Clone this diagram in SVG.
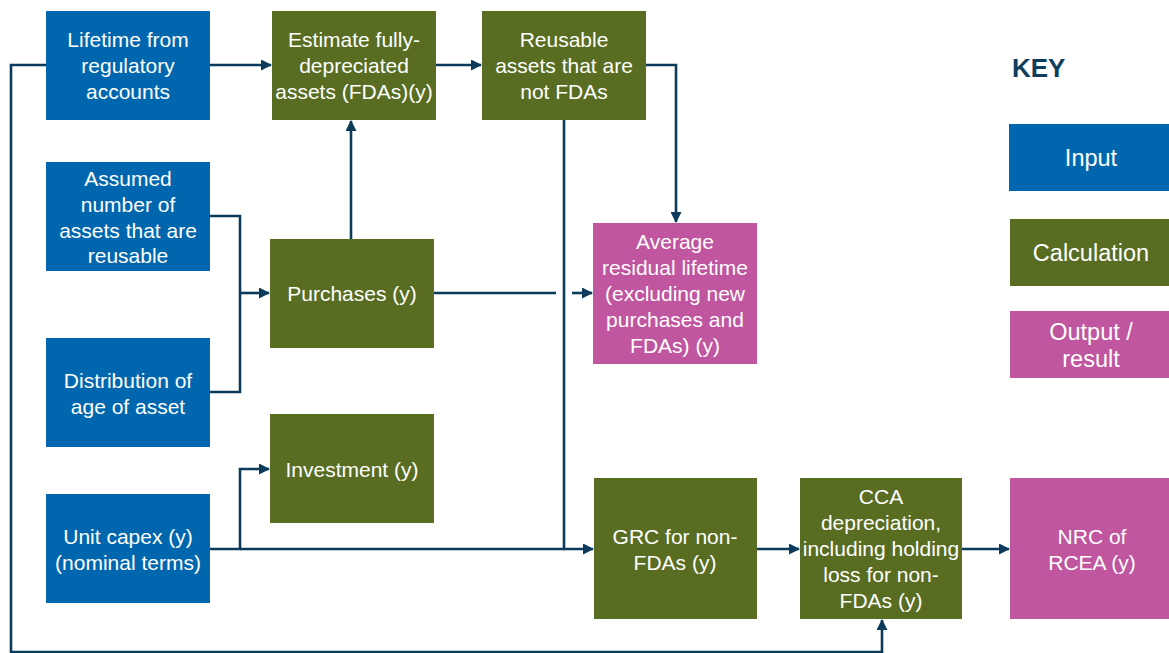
<svg xmlns="http://www.w3.org/2000/svg" width="1169" height="653" viewBox="0 0 1169 653">
  <style>
    .input { fill: #0067af; }
    .calc { fill: #586d22; }
    .output { fill: #c055a0; }
    .label { font-family: "Liberation Sans", Arial, sans-serif; font-size: 21px; fill: #ffffff; text-anchor: middle; }
    .keylabel { font-size: 23.5px; }
    .key { font-family: "Liberation Sans", Arial, sans-serif; font-size: 26px; font-weight: bold; fill: #0f3d5c; }
    .wire { fill: none; stroke: #0b3a5a; stroke-width: 2.6; }
  </style>
  <defs>
    <marker id="arrow" markerWidth="11" markerHeight="11" refX="10" refY="5.5" orient="auto" markerUnits="userSpaceOnUse">
      <path d="M0,0 L11,5.5 L0,11 Z" fill="#0b3a5a"/>
    </marker>
  </defs>
  <rect width="1169" height="653" fill="#ffffff"/>

  <g id="connectors">
    <!-- feedback loop from lifetime to CCA -->
    <path class="wire" d="M46,65 H11 V652 H882 V620" marker-end="url(#arrow)"/>
    <path class="wire" d="M210,65 H271" marker-end="url(#arrow)"/>
    <path class="wire" d="M436,65 H481" marker-end="url(#arrow)"/>
    <path class="wire" d="M646,65 H676 V222" marker-end="url(#arrow)"/>
    <path class="wire" d="M564,120 V549 H593" marker-end="url(#arrow)"/>
    <path class="wire" d="M210,216 H240 V392 H210"/>
    <path class="wire" d="M240,293 H269" marker-end="url(#arrow)"/>
    <path class="wire" d="M351,239 V121" marker-end="url(#arrow)"/>
    <path class="wire" d="M434,293 H556"/>
    <path class="wire" d="M572,293 H592" marker-end="url(#arrow)"/>
    <path class="wire" d="M210,549 H240 V469 H269" marker-end="url(#arrow)"/>
    <path class="wire" d="M240,549 H564"/>
    <path class="wire" d="M757,549 H799" marker-end="url(#arrow)"/>
    <path class="wire" d="M962,549 H1009" marker-end="url(#arrow)"/>
  </g>

  <g id="lifetime">
    <rect class="input" x="46" y="11" width="164" height="109"/>
    <text class="label" x="128" y="47">Lifetime from</text>
    <text class="label" x="128" y="73">regulatory</text>
    <text class="label" x="128" y="99">accounts</text>
  </g>
  <g id="estimate-fdas">
    <rect class="calc" x="272" y="11" width="164" height="109"/>
    <text class="label" x="354" y="47">Estimate fully-</text>
    <text class="label" x="354" y="73">depreciated</text>
    <text class="label" x="354" y="99">assets (FDAs)(y)</text>
  </g>
  <g id="reusable">
    <rect class="calc" x="482" y="11" width="164" height="109"/>
    <text class="label" x="564" y="47">Reusable</text>
    <text class="label" x="564" y="73">assets that are</text>
    <text class="label" x="564" y="99">not FDAs</text>
  </g>
  <g id="assumed">
    <rect class="input" x="46" y="162" width="164" height="109"/>
    <text class="label" x="128" y="186">Assumed</text>
    <text class="label" x="128" y="212">number of</text>
    <text class="label" x="128" y="238">assets that are</text>
    <text class="label" x="128" y="263">reusable</text>
  </g>
  <g id="purchases">
    <rect class="calc" x="270" y="239" width="164" height="109"/>
    <text class="label" x="352" y="301">Purchases (y)</text>
  </g>
  <g id="average">
    <rect class="output" x="593" y="223" width="164" height="141"/>
    <text class="label" x="675" y="249">Average</text>
    <text class="label" x="675" y="275">residual lifetime</text>
    <text class="label" x="675" y="301">(excluding new</text>
    <text class="label" x="675" y="327">purchases and</text>
    <text class="label" x="675" y="353">FDAs) (y)</text>
  </g>
  <g id="distribution">
    <rect class="input" x="46" y="338" width="164" height="109"/>
    <text class="label" x="128" y="388">Distribution of</text>
    <text class="label" x="128" y="414">age of asset</text>
  </g>
  <g id="investment">
    <rect class="calc" x="270" y="414" width="164" height="109"/>
    <text class="label" x="352" y="477">Investment (y)</text>
  </g>
  <g id="unit-capex">
    <rect class="input" x="46" y="494" width="164" height="109"/>
    <text class="label" x="128" y="544">Unit capex (y)</text>
    <text class="label" x="128" y="570">(nominal terms)</text>
  </g>
  <g id="grc">
    <rect class="calc" x="594" y="478" width="163" height="141"/>
    <text class="label" x="675" y="544">GRC for non-</text>
    <text class="label" x="675" y="570">FDAs (y)</text>
  </g>
  <g id="cca">
    <rect class="calc" x="800" y="478" width="162" height="141"/>
    <text class="label" x="881" y="504">CCA</text>
    <text class="label" x="881" y="530">depreciation,</text>
    <text class="label" x="881" y="556">including holding</text>
    <text class="label" x="881" y="582">loss for non-</text>
    <text class="label" x="881" y="608">FDAs (y)</text>
  </g>
  <g id="nrc">
    <rect class="output" x="1010" y="478" width="159" height="141"/>
    <text class="label" x="1092" y="544">NRC of</text>
    <text class="label" x="1092" y="570">RCEA (y)</text>
  </g>

  <g id="key">
    <text class="key" x="1012" y="77">KEY</text>
    <rect class="input" x="1009" y="124" width="160" height="67"/>
    <text class="label keylabel" x="1091" y="166">Input</text>
    <rect class="calc" x="1010" y="219" width="159" height="67"/>
    <text class="label keylabel" x="1091" y="261">Calculation</text>
    <rect class="output" x="1010" y="311" width="159" height="67"/>
    <text class="label keylabel" x="1091" y="340">Output /</text>
    <text class="label keylabel" x="1091" y="367">result</text>
  </g>
</svg>
